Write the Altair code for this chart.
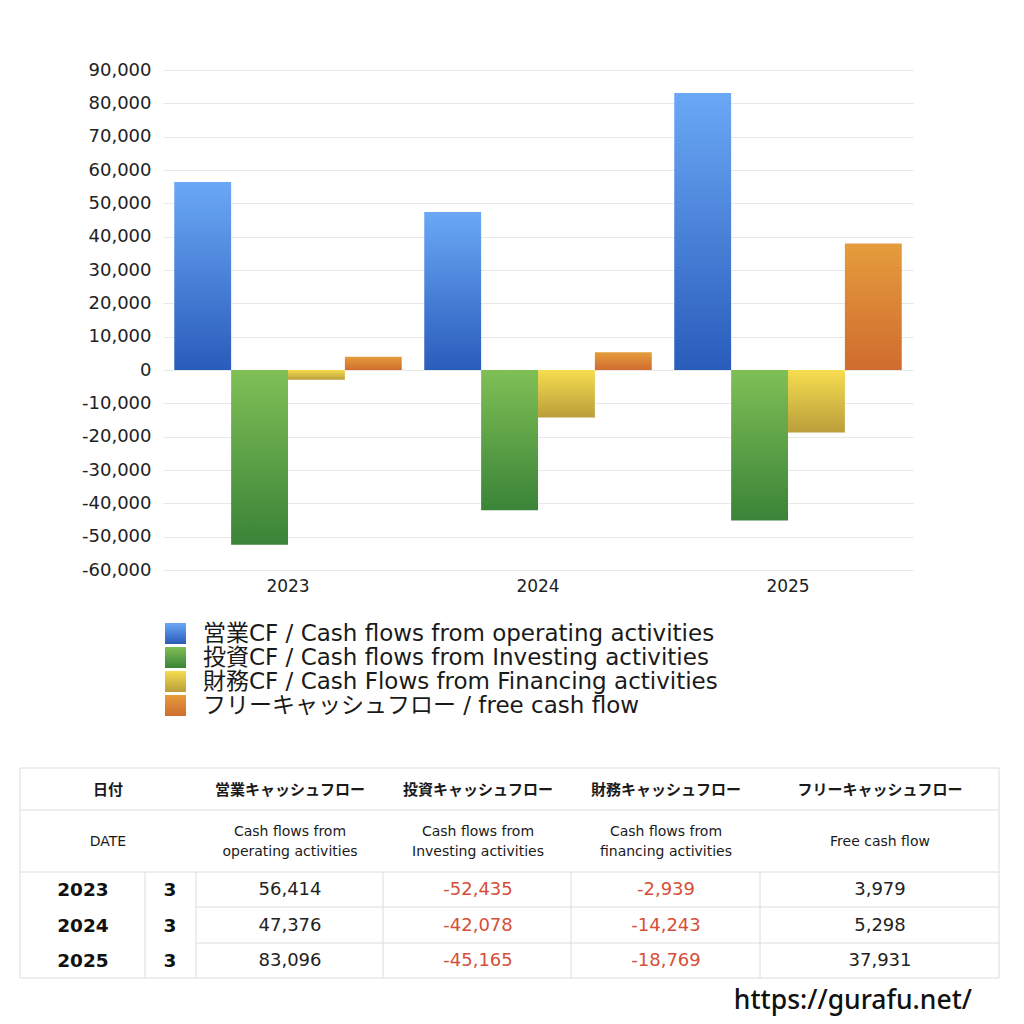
import altair as alt
import pandas as pd

# values (million yen)
years = ["2023", "2024", "2025"]
months = ["3", "3", "3"]
series_keys = ["op", "inv", "fin", "fcf"]
series_labels = [
    "営業CF / Cash flows from operating activities",
    "投資CF / Cash flows from Investing activities",
    "財務CF / Cash Flows from Financing activities",
    "フリーキャッシュフロー / free cash flow",
]
operating = [56414, 47376, 83096]
investing = [-52435, -42078, -45165]
financing = [-2939, -14243, -18769]
free_cf = [3979, 5298, 37931]

head_jp = ["日付", "営業キャッシュフロー", "投資キャッシュフロー", "財務キャッシュフロー", "フリーキャッシュフロー"]
head_en = [
    ["DATE"],
    ["Cash flows from", "operating activities"],
    ["Cash flows from", "Investing activities"],
    ["Cash flows from", "financing activities"],
    ["Free cash flow"],
]
url_text = "https://gurafu.net/"

FONT = "Noto Sans, Noto Sans CJK JP"
NUM = "DejaVu Sans, Noto Sans CJK JP"
JP = "Noto Sans CJK JP"
gradients = [
    ("#6aa8f5", "#2a5cbb"),
    ("#80bf56", "#3a8438"),
    ("#f6dd4f", "#b99e3b"),
    ("#e59c3c", "#d06c2f"),
]

values = [operating, investing, financing, free_cf]
rows = []
for key, vals in zip(series_keys, values):
    for y, v in zip(years, vals):
        rows.append({"year": y, "series": key, "value": v})
df = pd.DataFrame(rows)


def grad(top, bottom):
    return alt.Gradient(gradient="linear",
                        stops=[alt.GradientStop(color=top, offset=0),
                               alt.GradientStop(color=bottom, offset=1)],
                        x1=0, x2=0, y1=0, y2=1)


one = pd.DataFrame({"a": [0]})
layers = []

# bars, one layer per series so each can carry its own gradient
for i, key in enumerate(series_keys):
    top, bottom = gradients[i]
    bar = alt.Chart(df).mark_bar(fill=grad(top, bottom), stroke=None).encode(
        x=alt.X("year:N", title=None,
                scale=alt.Scale(paddingInner=0.09, paddingOuter=0.045),
                axis=alt.Axis(labelAngle=0, labelFontSize=17, labelFont=NUM,
                              labelColor="#222", labelPadding=8, domain=False, ticks=False,
                              grid=False)),
        xOffset=alt.XOffset("series:N", scale=alt.Scale(domain=series_keys)),
        y=alt.Y("value:Q", title=None,
                scale=alt.Scale(domain=[-60000, 90000], nice=False),
                axis=alt.Axis(values=list(range(-60000, 90001, 10000)),
                              labelExpr="replace(format(datum.value, ',.0f'), '\u2212', '-')",
                              labelFontSize=18, labelFont=NUM, labelColor="#222",
                              labelPadding=12, domain=False, ticks=False,
                              gridColor="#e8e8e8")),
    ).transform_filter(alt.datum.series == key)
    layers.append(bar)

# legend below the plot (pixel offsets from the plot origin)
for i, label in enumerate(series_labels):
    top, bottom = gradients[i]
    ly = 564 + 24 * i
    sq = alt.Chart(one).mark_rect(fill=grad(top, bottom)).encode(
        x=alt.value(2), x2=alt.value(23), y=alt.value(ly - 11), y2=alt.value(ly + 10))
    tx = alt.Chart(one).mark_text(text=label, align="left", baseline="middle",
                                  font=NUM, fontSize=23, color="#1a1a1a").encode(
        x=alt.value(40), y=alt.value(ly))
    layers += [sq, tx]

# table
OX, OY = 163, 70
line_col = "#dcdcdc"


def hline(x1, x2, y):
    return alt.Chart(one).mark_rule(color=line_col, strokeWidth=1).encode(
        x=alt.value(x1 - OX), x2=alt.value(x2 - OX), y=alt.value(y - OY))


def vline(x, y1, y2):
    return alt.Chart(one).mark_rule(color=line_col, strokeWidth=1).encode(
        x=alt.value(x - OX), y=alt.value(y1 - OY), y2=alt.value(y2 - OY))


def cell(text, x, y, size, weight="normal", color="#1a1a1a", font=FONT):
    return alt.Chart(one).mark_text(text=text, align="center", baseline="middle",
                                    font=font, fontSize=size, fontWeight=weight,
                                    color=color).encode(
        x=alt.value(x - OX), y=alt.value(y - OY))


for y in [768, 810, 872, 978]:
    layers.append(hline(20, 999, y))
for y in [907, 943]:
    layers.append(hline(196, 999, y))
layers.append(vline(20, 768, 978))
layers.append(vline(999, 768, 978))
for x in [145, 196, 383, 571, 760]:
    layers.append(vline(x, 872, 978))

col_x = [108, 290, 478, 666, 880]
for cx, jp in zip(col_x, head_jp):
    layers.append(cell(jp, cx, 790, 15, "bold", "#1a1a1a", JP))
for cx, en in zip(col_x, head_en):
    if len(en) == 1:
        layers.append(cell(en[0], cx, 842, 14, "normal", "#1a1a1a", NUM))
    else:
        layers.append(cell(en[0], cx, 832, 14, "normal", "#1a1a1a", NUM))
        layers.append(cell(en[1], cx, 852, 14, "normal", "#1a1a1a", NUM))

row_y = [890, 926, 961]
for r, ry in enumerate(row_y):
    layers.append(cell(years[r], 83, ry, 18.5, "bold", "#111", NUM))
    layers.append(cell(months[r], 170, ry, 18.5, "bold", "#111", NUM))
    for c, vals in enumerate(values):
        v = vals[r]
        layers.append(cell(f"{v:,}", col_x[c + 1], ry, 18, "normal",
                           "#d64f38" if v < 0 else "#222", NUM))

layers.append(alt.Chart(one).mark_text(text=url_text, align="right", baseline="middle",
                                       font=FONT, fontSize=26.5, fontWeight=500,
                                       color="#111").encode(
    x=alt.value(972 - OX), y=alt.value(1001 - OY)))

chart = alt.layer(*layers).properties(
    width=750, height=500,
    autosize=alt.AutoSizeParams(type="none"),
    padding={"left": 155, "top": 62, "right": 103, "bottom": 446},
    background="white",
).configure_view(stroke=None)

chart.save("out.html", embed_options={"renderer": "svg", "actions": False})
